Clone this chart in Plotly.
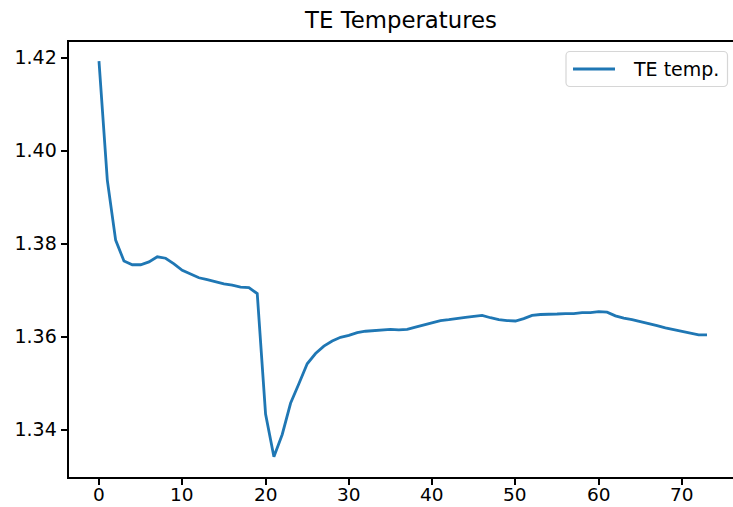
import plotly.graph_objects as go

# TE temperature readings per step
steps = list(range(74))
te_temp = [
    1.4193, 1.3937, 1.3808, 1.3763, 1.3755, 1.3755, 1.3761, 1.3772, 1.3769, 1.3757,
    1.3743, 1.3735, 1.3727, 1.3723, 1.3718, 1.3714, 1.3711, 1.3707, 1.3706, 1.3693,
    1.3434, 1.3342, 1.3390, 1.3457, 1.3499, 1.3542, 1.3564, 1.3580, 1.3591, 1.3599,
    1.3603, 1.3609, 1.3612, 1.3613, 1.3614, 1.3616, 1.3615, 1.3616, 1.3621, 1.3626,
    1.3630, 1.3635, 1.3637, 1.3640, 1.3642, 1.3644, 1.3646, 1.3641, 1.3637, 1.3635,
    1.3634, 1.3639, 1.3646, 1.3648, 1.3648, 1.3649, 1.3650, 1.3650, 1.3652, 1.3652,
    1.3654, 1.3653, 1.3645, 1.3640, 1.3637, 1.3633, 1.3629, 1.3624, 1.3619, 1.3615,
    1.3611, 1.3607, 1.3604, 1.3604,
]
series_name = "TE temp."
x_ticks = [0, 10, 20, 30, 40, 50, 60, 70]
y_ticks = [1.34, 1.36, 1.38, 1.40, 1.42]

W, H = 733, 507
ML, MR, MT, MB = 69, 0, 42, 30
PW, PH = W - ML - MR, H - MT - MB
LINE_COLOR = "#1f77b4"


def px_x(px):
    # pixel column -> x paper fraction (paper spans the plot area)
    return (px - ML) / PW


def px_y(py):
    # pixel row -> y paper fraction
    return (H - MB - py) / PH


fig = go.Figure()
fig.add_trace(go.Scatter(
    x=steps, y=te_temp, mode="lines", name=series_name,
    line=dict(color=LINE_COLOR, width=2.8), showlegend=False,
))

font = "DejaVu Sans, Liberation Sans, sans-serif"

# legend box with rounded corners, drawn in pixel terms
x0, x1, y0, y1, r = 566, 727.5, 51.5, 86.5, 4
k = 0.45  # bezier handle factor
path = (
    f"M {px_x(x0 + r)} {px_y(y0)} L {px_x(x1 - r)} {px_y(y0)} "
    f"C {px_x(x1 - r * k)} {px_y(y0)} {px_x(x1)} {px_y(y0 + r * k)} {px_x(x1)} {px_y(y0 + r)} "
    f"L {px_x(x1)} {px_y(y1 - r)} "
    f"C {px_x(x1)} {px_y(y1 - r * k)} {px_x(x1 - r * k)} {px_y(y1)} {px_x(x1 - r)} {px_y(y1)} "
    f"L {px_x(x0 + r)} {px_y(y1)} "
    f"C {px_x(x0 + r * k)} {px_y(y1)} {px_x(x0)} {px_y(y1 - r * k)} {px_x(x0)} {px_y(y1 - r)} "
    f"L {px_x(x0)} {px_y(y0 + r)} "
    f"C {px_x(x0)} {px_y(y0 + r * k)} {px_x(x0 + r * k)} {px_y(y0)} {px_x(x0 + r)} {px_y(y0)} Z"
)
fig.add_shape(type="path", path=path, xref="paper", yref="paper",
              line=dict(color="#d6d6d6", width=1.2), fillcolor="rgba(255,255,255,0.8)")
ly = (y0 + y1) / 2
fig.add_shape(type="line", xref="paper", yref="paper",
              x0=px_x(573), x1=px_x(615), y0=px_y(ly), y1=px_y(ly),
              line=dict(color=LINE_COLOR, width=2.8))
fig.add_annotation(text=series_name, xref="paper", yref="paper",
                   x=px_x(631), y=px_y(ly), xanchor="left", yanchor="middle",
                   showarrow=False, font=dict(size=19, family=font, color="black"))

# x tick labels placed on the x scale, just under the tick marks
for v in x_ticks:
    fig.add_annotation(text=str(v), xref="x", yref="paper", x=v, y=px_y(494.5),
                       xanchor="center", yanchor="middle", showarrow=False,
                       borderpad=0, font=dict(size=18.5, family=font, color="black"))

fig.update_layout(
    width=W, height=H,
    margin=dict(l=ML, r=MR, t=MT, b=MB, autoexpand=False),
    paper_bgcolor="white", plot_bgcolor="white",
    font=dict(family=font, size=19, color="black"),
    title=dict(text="TE Temperatures", x=0.5, xanchor="center",
               y=1 - 20 / H, yanchor="middle", automargin=False,
               xref="paper", font=dict(size=22.8, family=font, color="black")),
    showlegend=False,
)
fig.update_xaxes(
    range=[-3.6, 76.12], tickvals=x_ticks, showticklabels=False,
    showgrid=False, zeroline=False, showline=True, linecolor="black", linewidth=1.5,
    mirror=True, ticks="outside", ticklen=6.7, tickwidth=1.5, tickcolor="black",
    automargin=False,
)
fig.update_yaxes(
    range=[1.32985, 1.4234], tickvals=y_ticks, ticktext=[f"{v:.2f}" for v in y_ticks],
    showgrid=False, zeroline=False, showline=True, linecolor="black", linewidth=1.5,
    mirror=False, ticks="outside", ticklen=6.7, tickwidth=1.5, tickcolor="black",
    tickfont=dict(size=19), automargin=False,
)

fig.write_html("out.html")
